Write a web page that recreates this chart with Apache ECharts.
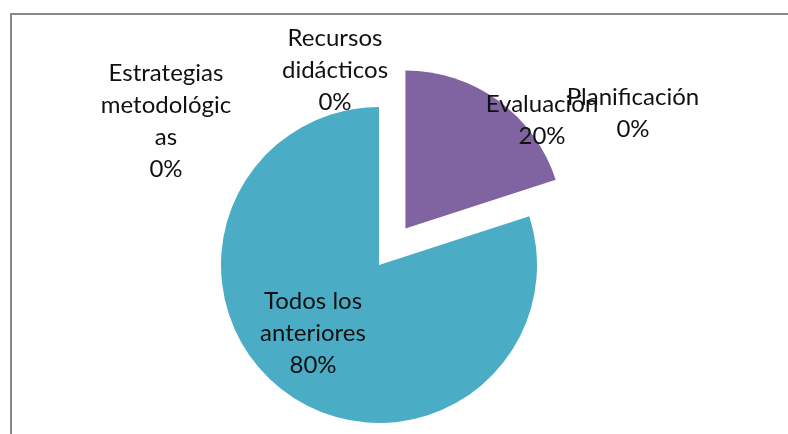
<!DOCTYPE html>
<html>
<head>
<meta charset="utf-8">
<script src="https://cdn.jsdelivr.net/npm/echarts@6/dist/echarts.min.js"></script>
<style>
  html, body { margin: 0; padding: 0; background: #fff; }
  #frame {
    position: absolute;
    left: 10px;
    top: 13px;
    width: 900px;
    height: 600px;
    border: 2px solid #878787;
  }
  #chart { position: absolute; left: 0; top: 0; width: 788px; height: 434px; }
</style>
</head>
<body>
<div id="frame"></div>
<div id="chart"></div>
<script>
// slices in Excel order, starting at 12 o'clock and going clockwise
const names = ['Evaluación', 'Planificación', 'Todos los\nanteriores', 'Estrategias\nmetodológic\nas', 'Recursos\ndidácticos']
const values = [20, 0, 80, 0, 0]
const colors = ['#8064A2', '#8064A2', '#4BACC6', '#4BACC6', '#4BACC6']
const exploded = [true, false, false, false, false]

// where Excel left each data label (centre of the text block)
const labelSpots = [
  [542, 120],
  [633, 113],
  [313, 333],
  [166, 121],
  [335, 70]
]

const center = [379, 265]
const radius = 158
const explodeDist = 45

const chart = echarts.init(document.getElementById('chart'))

// the exploded slice is drawn by its own pie, shifted along the slice's mid angle
const total = values.reduce((a, b) => a + b, 0)
const series = []
let acc = 0
values.forEach((v, i) => {
  const mid = ((acc + v / 2) / total) * 2 * Math.PI
  acc += v
  if (!exploded[i]) return
  series.push({
    type: 'pie',
    silent: true,
    center: [center[0] + explodeDist * Math.sin(mid), center[1] - explodeDist * Math.cos(mid)],
    radius,
    startAngle: 90,
    clockwise: true,
    label: { show: false },
    labelLine: { show: false },
    data: names.map((name, j) => ({
      name,
      value: values[j],
      itemStyle: { color: j === i ? colors[j] : 'rgba(0,0,0,0)' }
    }))
  })
})

series.push({
  type: 'pie',
  center,
  radius,
  startAngle: 90,
  clockwise: true,
  percentPrecision: 0,
  avoidLabelOverlap: false,
  emphasis: { disabled: true },
  label: {
    show: true,
    position: 'inside',
    formatter: '{b}\n{d}%',
    color: '#111',
    fontFamily: 'Lato, "Open Sans", sans-serif',
    fontSize: 24,
    lineHeight: 32,
    align: 'center'
  },
  labelLine: { show: false },
  labelLayout(params) {
    const spot = labelSpots[params.dataIndex]
    return { x: spot[0], y: spot[1], align: 'center', verticalAlign: 'middle' }
  },
  data: names.map((name, i) => ({
    name,
    value: values[i],
    itemStyle: { color: exploded[i] ? 'rgba(0,0,0,0)' : colors[i] }
  }))
})

chart.setOption({ animation: false, series })
</script>
</body>
</html>
